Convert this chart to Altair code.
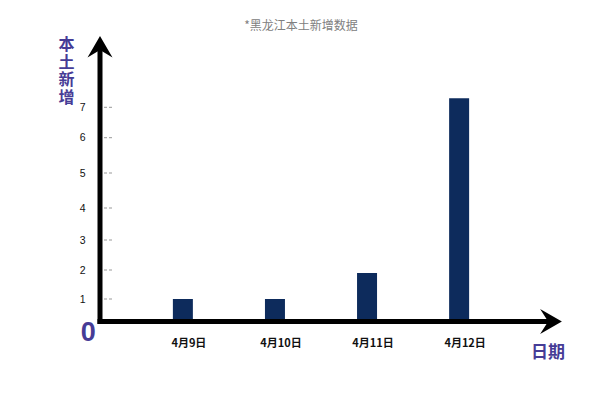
import altair as alt
import pandas as pd

# ---- data ----
dates = ["4月9日", "4月10日", "4月11日", "4月12日"]
cases = [1, 1, 1.9, 7.3]
tick_values = [1, 2, 3, 4, 5, 6, 7]
title_text = "*黑龙江本土新增数据"
y_title = "本\n土\n新\n增"
x_title = "日期"
zero_label = "0"

df = pd.DataFrame({"date": dates, "cases": cases})
ticks_df = pd.DataFrame({"cases": tick_values})
one = pd.DataFrame({"k": [0]})

CJK = "Noto Sans CJK SC"
PURPLE = "#463c96"
NAVY = "#0d2b5c"

# hand-drawn, slightly irregular value axis -> piecewise linear scale
yscale = alt.Scale(
    domain=[0, 1, 2, 3, 4, 5, 6, 7],
    range=[291.5, 269, 240, 210, 178, 143, 107.7, 77.3],
    nice=False,
    zero=False,
)
yaxis = alt.Axis(title=None, domain=False, ticks=False, grid=False,
                 values=tick_values, format="d", labelFont="Liberation Sans",
                 labelFontSize=10.5, labelColor="#111", labelPadding=15)
xscale = alt.Scale(domain=dates, paddingOuter=0.4, paddingInner=0.0)

bars = alt.Chart(df).mark_bar(size=20, color=NAVY).encode(
    x=alt.X("date:N", sort=dates, scale=xscale,
            axis=alt.Axis(title=None, domain=False, ticks=False, labelAngle=0,
                          labelFont=CJK, labelFontSize=11, labelFontWeight="bold",
                          labelColor="#111", labelPadding=15, labelOffset=6)),
    y=alt.Y("cases:Q", scale=yscale, axis=yaxis),
)

tick_dashes = alt.Chart(ticks_df).mark_rule(color="#999", strokeDash=[3, 2], strokeWidth=1).encode(
    y=alt.Y("cases:Q", scale=yscale, axis=yaxis),
    x=alt.value(4),
    x2=alt.value(12),
)

y_shaft = alt.Chart(one).mark_rule(color="black", strokeWidth=5, strokeCap="butt").encode(
    x=alt.value(0), y=alt.value(294), y2=alt.value(20)
)
x_shaft = alt.Chart(one).mark_rule(color="black", strokeWidth=5, strokeCap="butt").encode(
    y=alt.value(291.5), x=alt.value(-2.5), x2=alt.value(450)
)

x_head = alt.Chart(one).mark_point(
    shape="M0.87,0 L-0.87,-1 L-0.23,0 L-0.87,1 Z", size=625,
    filled=True, color="black", opacity=1, strokeWidth=0
).encode(x=alt.value(451), y=alt.value(291.5))

y_head = alt.Chart(one).mark_point(
    shape="M0,-0.86 L-1,0.86 L0,0.26 L1,0.86 Z", size=625,
    filled=True, color="black", opacity=1, strokeWidth=0
).encode(x=alt.value(0), y=alt.value(16.75))

title = alt.Chart(pd.DataFrame({"t": [title_text]})).mark_text(
    font=CJK, fontSize=12, color="#808080", baseline="middle", align="center"
).encode(text="t:N", x=alt.value(201), y=alt.value(-4))

ytitle = alt.Chart(pd.DataFrame({"t": [y_title]})).mark_text(
    font=CJK, fontSize=16, fontWeight="bold", color=PURPLE, baseline="top",
    align="center", lineBreak="\n", lineHeight=17.5
).encode(text="t:N", x=alt.value(-33.5), y=alt.value(7))

xtitle = alt.Chart(pd.DataFrame({"t": [x_title]})).mark_text(
    font=CJK, fontSize=17, fontWeight="bold", color=PURPLE, baseline="middle", align="center"
).encode(text="t:N", x=alt.value(448), y=alt.value(322.5))

zero = alt.Chart(pd.DataFrame({"t": [zero_label]})).mark_text(
    font="Liberation Sans", fontSize=27, fontWeight="bold", color=PURPLE,
    baseline="middle", align="center"
).encode(text="t:N", x=alt.value(-11.7), y=alt.value(303))

chart = alt.layer(
    bars, tick_dashes, y_shaft, x_shaft, x_head, y_head, title, ytitle, xtitle, zero
).properties(
    width=442, height=292,
    autosize=alt.AutoSizeParams(type="none"),
    padding={"left": 92, "top": 22, "right": 50, "bottom": 70},
    background="white",
).configure_view(stroke=None)

chart.save("out.html", embed_options={"renderer": "svg", "actions": False})
